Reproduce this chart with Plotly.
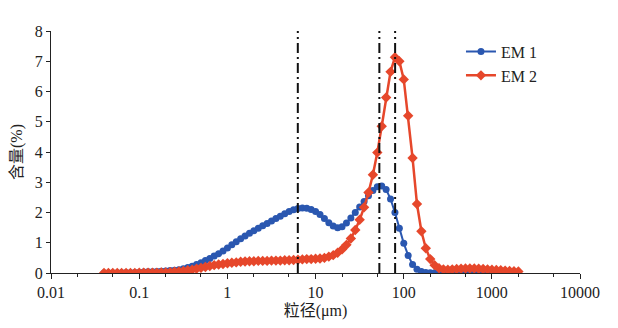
import plotly.graph_objects as go

size_um = [0.0399, 0.0448, 0.0502, 0.0564, 0.0632, 0.0710, 0.0796, 0.0893, 0.1002, 0.1125,
           0.1262, 0.1416, 0.1589, 0.1783, 0.2000, 0.2244, 0.2518, 0.2825, 0.3170, 0.3557,
           0.3991, 0.4477, 0.5024, 0.5637, 0.6325, 0.7096, 0.7962, 0.8934, 1.0024, 1.1247,
           1.2619, 1.4159, 1.5887, 1.7825, 2.0000, 2.2440, 2.5179, 2.8251, 3.1698, 3.5566,
           3.9905, 4.4774, 5.0238, 5.6368, 6.3246, 7.0963, 7.9621, 8.9337, 10.0237, 11.2468,
           12.6191, 14.1589, 15.8866, 17.8250, 20.0000, 22.4404, 25.1785, 28.2508, 31.6979, 35.5656,
           39.9052, 44.7744, 50.2377, 56.3677, 63.2456, 70.9627, 79.6214, 89.3367, 100.2374, 112.4683,
           126.1915, 141.5892, 158.8656, 178.2502, 200.0000, 224.4037, 251.7851, 282.5075, 316.9786, 355.6559,
           399.0525, 447.7442, 502.3773, 563.6766, 632.4555, 709.6268, 796.2143, 893.3672, 1002.3738, 1124.6827,
           1261.9147, 1415.8916, 1588.6564, 1782.5023, 2000.0000]

em1 = [0.00, 0.00, 0.00, 0.00, 0.01, 0.01, 0.01, 0.02, 0.02, 0.03,
       0.04, 0.04, 0.05, 0.06, 0.07, 0.08, 0.09, 0.11, 0.14, 0.18,
       0.22, 0.28, 0.34, 0.41, 0.48, 0.56, 0.64, 0.73, 0.83, 0.93,
       1.03, 1.13, 1.22, 1.31, 1.40, 1.48, 1.56, 1.64, 1.72, 1.80,
       1.88, 1.96, 2.03, 2.09, 2.13, 2.15, 2.14, 2.10, 2.03, 1.93,
       1.80, 1.66, 1.55, 1.50, 1.53, 1.65, 1.82, 2.00, 2.18, 2.36,
       2.55, 2.73, 2.85, 2.88, 2.76, 2.45, 2.00, 1.48, 0.98, 0.58,
       0.28, 0.12, 0.05, 0.02, 0.01, 0.01, 0.01, 0.02, 0.02, 0.03,
       0.03, 0.04, 0.04, 0.04, 0.04, 0.04, 0.03, 0.03, 0.03, 0.02,
       0.02, 0.01, 0.01, 0.01, 0.00]

em2 = [0.00, 0.00, 0.00, 0.00, 0.00, 0.00, 0.00, 0.00, 0.01, 0.01,
       0.01, 0.01, 0.01, 0.02, 0.02, 0.03, 0.04, 0.05, 0.07, 0.09,
       0.11, 0.14, 0.17, 0.20, 0.23, 0.26, 0.28, 0.30, 0.32, 0.34,
       0.35, 0.37, 0.38, 0.39, 0.39, 0.40, 0.40, 0.40, 0.41, 0.41,
       0.41, 0.42, 0.42, 0.43, 0.44, 0.45, 0.46, 0.46, 0.47, 0.48,
       0.50, 0.54, 0.59, 0.67, 0.78, 0.93, 1.14, 1.42, 1.76, 2.17,
       2.66, 3.25, 3.98, 4.85, 5.80, 6.65, 7.13, 7.00, 6.40, 5.20,
       3.80, 2.28, 1.38, 0.82, 0.46, 0.26, 0.16, 0.12, 0.11, 0.12,
       0.13, 0.14, 0.15, 0.15, 0.15, 0.14, 0.13, 0.12, 0.11, 0.10,
       0.09, 0.08, 0.07, 0.06, 0.05]

marker_lines_um = [6.3, 53, 80]

x_tick_vals = [0.01, 0.1, 1, 10, 100, 1000, 10000]
x_tick_text = ["0.01", "0.1", "1", "10", "100", "1000", "10000"]
y_tick_vals = [0, 1, 2, 3, 4, 5, 6, 7, 8]

BLUE = "#2A57B0"
RED = "#E6472B"
FONT = "Liberation Serif, Times New Roman, Noto Sans CJK SC, serif"

fig = go.Figure()
fig.add_trace(go.Scatter(x=size_um, y=em1, mode="lines+markers", name="EM 1",
                         line=dict(color=BLUE, width=2),
                         marker=dict(symbol="circle", size=7, color=BLUE)))
fig.add_trace(go.Scatter(x=size_um, y=em2, mode="lines+markers", name="EM 2",
                         line=dict(color=RED, width=2.5),
                         marker=dict(symbol="diamond", size=8, color=RED)))
for xv in marker_lines_um:
    fig.add_trace(go.Scatter(x=[xv, xv], y=[0, 8], mode="lines", showlegend=False,
                             hoverinfo="skip",
                             line=dict(color="#111111", width=2, dash="10px,4px,2px,4px")))

fig.update_layout(
    width=618, height=328,
    margin=dict(l=51, r=38, t=31, b=53),
    paper_bgcolor="white", plot_bgcolor="white",
    font=dict(family=FONT, size=16, color="#222222"),
    showlegend=True,
    legend=dict(x=0.775, y=0.985, xanchor="left", yanchor="top",
                bgcolor="rgba(0,0,0,0)", font=dict(size=16, family=FONT),
                tracegroupgap=0, itemwidth=30),
)
fig.update_xaxes(type="log", range=[-2, 4], tickvals=x_tick_vals, ticktext=x_tick_text,
                 showline=True, linecolor="#222222", linewidth=1,
                 ticks="outside", ticklen=5, tickcolor="#222222",
                 minor=dict(ticks="outside", ticklen=3, tickcolor="#222222", showgrid=False),
                 showgrid=False, zeroline=False,
                 title=dict(text="粒径(μm)", font=dict(size=16, family=FONT), standoff=4),
                 tickfont=dict(size=16, family=FONT))
fig.update_yaxes(range=[0, 8], tickvals=y_tick_vals,
                 showline=True, linecolor="#222222", linewidth=1,
                 ticks="outside", ticklen=4, tickcolor="#222222",
                 showgrid=False, zeroline=False,
                 title=dict(text="含量(%)", font=dict(size=16, family=FONT), standoff=8),
                 tickfont=dict(size=16, family=FONT))

fig.write_html("out.html")
